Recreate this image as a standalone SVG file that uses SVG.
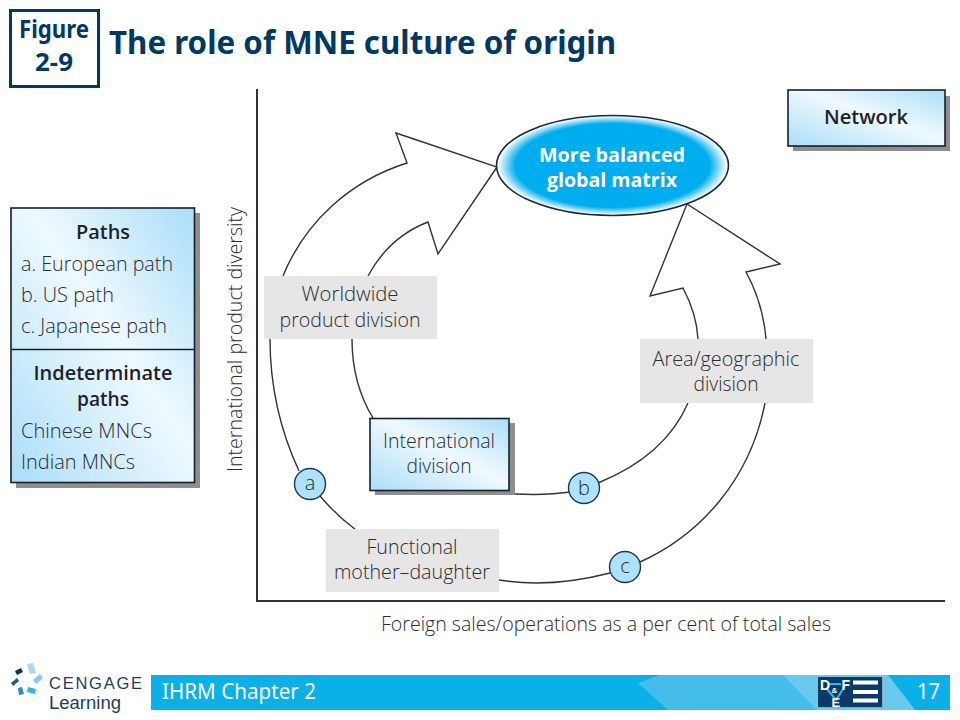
<svg xmlns="http://www.w3.org/2000/svg" width="960" height="720" viewBox="0 0 960 720">
<style>
text{font-family:"Open Sans","Noto Sans","Liberation Sans",sans-serif;fill:#2c2c2e;font-size:20px;font-weight:300}
.c{text-anchor:middle}
.b{font-weight:600;fill:#1f2328}
.ttl{font-family:"Noto Sans","Open Sans",sans-serif;font-weight:700;fill:#003a63}
.box{stroke:#16202a;stroke-width:1.6;fill:url(#g)}
.sh{fill:#8e8e91}
.lab{fill:#e6e6e6}
.ln{fill:none;stroke:#333;stroke-width:1.4;stroke-linejoin:miter}
.ax{fill:none;stroke:#333;stroke-width:2}
.dot{fill:#aee1fa;stroke:#1d3a50;stroke-width:1.4}
.wb{fill:#fff;font-weight:700}
.ic{font-family:"Liberation Sans",sans-serif;fill:#fff;font-size:14px;font-weight:700}
.lg{font-family:"Liberation Sans",sans-serif;fill:#1c3d5f;font-weight:400}
</style>
<defs>
<linearGradient id="g" x1="0" y1="1" x2="1" y2="0"><stop offset="0" stop-color="#aadef9"/><stop offset=".55" stop-color="#eff9fe"/><stop offset="1" stop-color="#aadef9"/></linearGradient>
<radialGradient id="e" cx=".5" cy=".5" r=".5"><stop offset="0" stop-color="#00aeef"/><stop offset=".84" stop-color="#00aeef"/><stop offset=".99" stop-color="#fff"/></radialGradient>
</defs>
<rect width="960" height="720" fill="#fff"/>
<g id="figure-tag"><rect x="10.5" y="10.5" width="88" height="76" fill="#fff" stroke="#003a63" stroke-width="3"/>
<text class="ttl c" x="54" y="38" style="font-size:25px" textLength="70" lengthAdjust="spacingAndGlyphs">Figure</text>
<text class="ttl c" x="54" y="71" style="font-size:25px" textLength="38" lengthAdjust="spacingAndGlyphs">2-9</text></g>
<text id="title" class="ttl" x="109" y="54" style="font-size:33px" textLength="507" lengthAdjust="spacingAndGlyphs">The role of MNE culture of origin</text>
<g id="axes"><path class="ax" d="M257,89V601H945"/>
<text x="242" y="472" transform="rotate(-90 242 472)" textLength="265" lengthAdjust="spacingAndGlyphs">International product diversity</text>
<text x="381" y="631" textLength="450" lengthAdjust="spacingAndGlyphs">Foreign sales/operations as a per cent of total sales</text></g>
<g id="connectors">
<path class="ln" d="M270,339C270,385 280,430 299,471"/>
<path class="ln" d="M320,496Q336,515 356,530"/>
<path class="ln" d="M283,276C305,222 350,181 407,163L396,133L497,167L438,254L428,222C402,232 382,250 368,276"/>
<path class="ln" d="M352,339C352,370 359,395 373,418"/>
<path class="ln" d="M515,494C535,495 550,495 570,492"/>
<path class="ln" d="M598,483C640,466 672,440 688,403"/>
<path class="ln" d="M698,339C697,320 692,305 683,288L650,296L687,204L780,264L746,272C757,292 764,315 766,339"/>
<path class="ln" d="M765,403C750,480 700,535 640,562"/>
<path class="ln" d="M499,580C535,586 575,582 610,573"/>
</g>
<g id="paths-box"><rect class="sh" x="16" y="213" width="184" height="275"/><rect class="box" x="11" y="208" width="183.500" height="274.500"/><path d="M11,349.500H194.500" stroke="#16202a" stroke-width="1.600"/>
<text class="b c" x="103" y="239" textLength="54" lengthAdjust="spacingAndGlyphs">Paths</text>
<text x="21" y="271" textLength="152" lengthAdjust="spacingAndGlyphs">a. European path</text>
<text x="21" y="302" textLength="93" lengthAdjust="spacingAndGlyphs">b. US path</text>
<text x="21" y="333" textLength="146" lengthAdjust="spacingAndGlyphs">c. Japanese path</text>
<text class="b c" x="103" y="380" textLength="139" lengthAdjust="spacingAndGlyphs">Indeterminate</text>
<text class="b c" x="103" y="406" textLength="52" lengthAdjust="spacingAndGlyphs">paths</text>
<text x="21" y="438" textLength="131" lengthAdjust="spacingAndGlyphs">Chinese MNCs</text>
<text x="21" y="469" textLength="114" lengthAdjust="spacingAndGlyphs">Indian MNCs</text></g>
<g id="network"><rect class="sh" x="793" y="96" width="157" height="55"/><rect class="box" x="788" y="90" width="157" height="56"/><text class="b c" x="866" y="124" textLength="84" lengthAdjust="spacingAndGlyphs">Network</text></g>
<g id="matrix"><ellipse cx="612.500" cy="165.500" rx="116" ry="50" fill="url(#e)" stroke="#1d2a33" stroke-width="1.600"/>
<text class="c wb" x="612" y="162" textLength="146" lengthAdjust="spacingAndGlyphs">More balanced</text>
<text class="c wb" x="612" y="187" textLength="130" lengthAdjust="spacingAndGlyphs">global matrix</text></g>
<g id="worldwide"><rect class="lab" x="264" y="276" width="173" height="63"/><text class="c" x="350" y="301" textLength="97" lengthAdjust="spacingAndGlyphs">Worldwide</text><text class="c" x="350" y="327" textLength="141" lengthAdjust="spacingAndGlyphs">product division</text></g>
<g id="area"><rect class="lab" x="640" y="339" width="173" height="64"/><text class="c" x="726" y="366" textLength="147" lengthAdjust="spacingAndGlyphs">Area/geographic</text><text class="c" x="726" y="391" textLength="65" lengthAdjust="spacingAndGlyphs">division</text></g>
<g id="functional"><rect class="lab" x="326" y="529" width="173" height="63"/><text class="c" x="412" y="554" textLength="91" lengthAdjust="spacingAndGlyphs">Functional</text><text class="c" x="412" y="579" textLength="156" lengthAdjust="spacingAndGlyphs">mother–daughter</text></g>
<g id="international"><rect class="sh" x="375" y="423" width="140" height="72"/><rect class="box" x="370" y="418.500" width="139" height="72"/><text class="c" x="439" y="448" textLength="112" lengthAdjust="spacingAndGlyphs">International</text><text class="c" x="439" y="473" textLength="65" lengthAdjust="spacingAndGlyphs">division</text></g>
<g id="a"><circle class="dot" cx="310" cy="484" r="15.500"/><text class="c" x="310" y="490">a</text></g>
<g id="b"><circle class="dot" cx="584" cy="488" r="15.500"/><text class="c" x="584" y="495">b</text></g>
<g id="c"><circle class="dot" cx="625" cy="567" r="15.500"/><text class="c" x="625" y="573">c</text></g>
<g id="footer">
<rect x="151" y="675" width="799" height="35" fill="#0bb0e6"/>
<path d="M638,683L660,675H888L915,710H668Z" fill="#45bde9"/>
<path d="M783,675H888L915,710H817Z" fill="#6cc9ee"/>
<text x="162" y="699" style="font-family:'Noto Sans',sans-serif;fill:#fff;font-size:22px;font-weight:400" textLength="154" lengthAdjust="spacingAndGlyphs">IHRM Chapter 2</text>
<text x="917" y="699" style="font-family:'Noto Sans',sans-serif;fill:#fff;font-size:22px;font-weight:400" textLength="23" lengthAdjust="spacingAndGlyphs">17</text>
<rect x="819" y="678" width="64" height="30" fill="#8fa6ba"/>
<rect x="818" y="677" width="64" height="30" fill="#0b3a66"/>
<path d="M827,689L836,700L845,686" fill="none" stroke="#2fb6e6" stroke-width="2"/>
<path d="M829,684H841" stroke="#2fb6e6" stroke-width="2"/>
<text class="ic" x="820" y="690">D</text>
<text class="ic" x="841.500" y="690">F</text>
<text class="ic" x="831.500" y="693" style="font-size:8px">&amp;</text>
<text class="ic" x="831.500" y="707" style="font-size:13px">E</text>
<path d="M853,682.500H878M853,692H878M853,700.500H878" stroke="#fff" stroke-width="4"/>
</g>
<g id="logo">
<path d="M27,664L33,663L36,673L30,674Z" fill="#a9d8f2"/>
<path d="M33,680L40,674L43,678L36,684Z" fill="#7fcdee"/>
<path d="M28,687L36,689L35,694L27,692Z" fill="#35b5e5"/>
<path d="M18,688L22,687L24,694L19,695Z" fill="#2a8cc4"/>
<path d="M11,683L17,678L19,681L13,686Z" fill="#1b5d8c"/>
<path d="M15,671L21,668L23,672L17,675Z" fill="#0e2f52"/>
<text class="lg" x="49" y="689" style="font-size:16.500px" textLength="93" lengthAdjust="spacing">CENGAGE</text>
<text class="lg" x="49" y="708.500" style="font-size:17.500px" textLength="72" lengthAdjust="spacingAndGlyphs">Learning</text>
</g>
</svg>
